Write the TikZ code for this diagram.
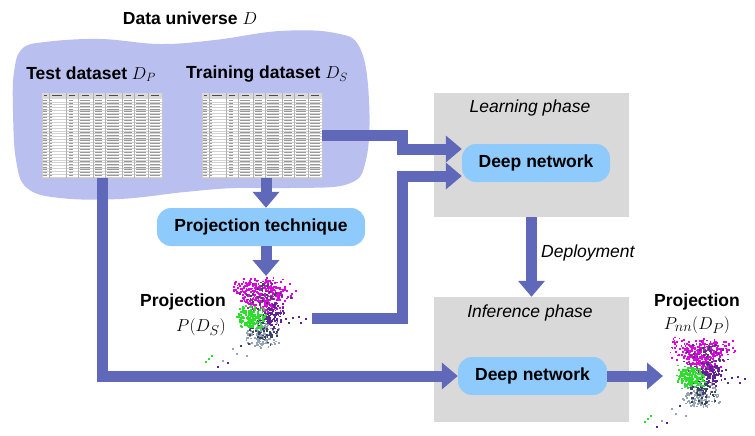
\documentclass[tikz,border=0pt]{standalone}
\usepackage{fontspec}
\setmainfont{Liberation Sans}
\usetikzlibrary{arrows.meta}
\definecolor{arrowc}{RGB}{96,104,186}
\definecolor{blobc}{RGB}{185,192,240}
\definecolor{boxc}{RGB}{217,217,217}
\definecolor{nodec}{RGB}{143,202,253}
\definecolor{magc}{RGB}{225,0,225}
\definecolor{grnc}{RGB}{40,225,40}
\definecolor{purc}{RGB}{95,35,150}
\definecolor{navc}{RGB}{60,70,100}
\definecolor{gryc}{RGB}{150,165,180}
\tikzset{
 band/.style={draw=arrowc, line width=11pt, line join=miter, -{Triangle[length=16pt,width=26pt]}},
 dnbox/.style={fill=nodec, rounded corners=14pt, font=\fontsize{17.5}{20}\selectfont\bfseries, inner sep=0pt},
 phase/.style={fill=boxc, inner sep=0pt},
 phaselbl/.style={font=\fontsize{17.5}{20}\selectfont\itshape, inner sep=0pt},
 lbl/.style={font=\fontsize{17.5}{20}\selectfont\bfseries, inner sep=0pt},
 mlbl/.style={font=\fontsize{19}{22}\selectfont, inner sep=0pt},
 tab/.style={fill=white, draw=gray!45, line width=0.5pt, minimum width=120pt, minimum height=85pt, inner sep=0pt},
}
\newcommand\minitab[1]{%
 \begin{scope}[shift={(#1.north west)}]
  \fill[gray!30] (0,0) rectangle (120,6);
  \foreach \r in {1,...,27}{\draw[gray!35,line width=0.3pt] (0,{6+\r*2.9}) -- (120,{6+\r*2.9});}
  \foreach \c in {7,24,36,51,63,80,92,106}{\draw[gray!60,line width=0.4pt] (\c,0) -- (\c,85);}
  \foreach \a/\b in {2/5,10/20,27/33,40/47,54/60,67/76,84/89,96/102,109/117}{\draw[black!70,line width=0.9pt] (\a,3) -- (\b,3);}
  \foreach \r in {0,...,26}{\foreach \a/\b in {1/5,8/10,27/31,38/48,53/60,65/77,82/90,94/104,108/118}{\draw[gray!80,line width=0.8pt] (\a,{7.45+\r*2.9}) -- (\b,{7.45+\r*2.9});}}
 \end{scope}}
\newcommand\cloud[6]{\foreach \k in {1,...,#6}{\fill[#5] ({#1+#3*(rand+rand)/2},{#2+#4*(rand+rand)/2}) rectangle ++(1.8,1.8);}}
\newcommand\scatplot{%
  \cloud{261}{289}{34}{13}{magc}{230}
  \cloud{263}{303}{22}{11}{magc}{130}
  \cloud{266}{294}{28}{16}{navc}{45}
  \cloud{261}{334}{19}{14}{gryc}{160}
  \cloud{262}{330}{17}{16}{navc}{70}
  \cloud{271}{314}{14}{15}{purc}{100}
  \cloud{251}{316}{16}{13}{grnc}{200}
  \foreach \px/\py/\pc in {285/318/purc,292/317/purc,298/316/purc,305/318/purc,300/322/purc,288/322/navc,295/290/magc,289/283/magc,
     232/348/gryc,236/353/gryc,240/345/navc,208/358/grnc,211/355/grnc,205/361/grnc,217/366/purc,222/360/gryc,227/362/purc,246/355/gryc}
    {\fill[\pc] (\px,\py) rectangle ++(1.8,1.8);}
}
\begin{document}
\begin{tikzpicture}[x=1pt,y=-1pt]
\useasboundingbox (0,0) rectangle (755,436);
% data universe blob
\fill[blobc] plot[smooth cycle, tension=0.65] coordinates {(14,72) (22,49) (45,42) (100,39) (160,44) (215,40) (280,31) (335,33) (360,48) (369,100) (366,160) (348,184) (290,188) (235,188) (185,192) (120,199) (60,198) (27,188) (16,160) (13,110)};
\node[lbl] (title) at (190,18) {Data universe $D$};
\node[lbl] (testlbl) at (91,74) {Test dataset $D_P$};
\node[lbl] (trainlbl) at (267,74) {Training dataset $D_S$};
\node[tab] (testtab) at (102,135.5) {};
\node[tab] (traintab) at (262,135.5) {};
\minitab{testtab}
\minitab{traintab}
% phase boxes
\node[phase, minimum width=195pt, minimum height=124pt] (learnbox) at (531.5,155) {};
\node[phaselbl] (learnlbl) at (530,108) {Learning phase};
\node[phase, minimum width=195pt, minimum height=125pt] (infbox) at (531.5,359.5) {};
\node[phaselbl] (inflbl) at (530,313) {Inference phase};
% process nodes
\node[dnbox, minimum width=148pt, minimum height=38pt] (dn1) at (536,163) {Deep network};
\node[dnbox, minimum width=149pt, minimum height=38pt] (dn2) at (532.5,376) {Deep network};
\node[dnbox, minimum width=208pt, minimum height=38pt] (projtech) at (261,227) {Projection technique};
% scatter plots
\pgfmathsetseed{11}
\scatplot
\begin{scope}[shift={(439pt,-60pt)}]
\pgfmathsetseed{29}
\scatplot
\end{scope}
\coordinate (s1) at (312,318);
\coordinate (s1top) at (266,276);
\coordinate (s2in) at (663,376);
% labels
\node[lbl, anchor=east] (p1a) at (226,302) {Projection};
\node[mlbl, anchor=east] (p1b) at (226,327) {$P(D_S)$};
\node[lbl] (p2a) at (697,302) {Projection};
\node[mlbl] (p2b) at (697,325) {$P_{nn}(D_P)$};
\node[phaselbl, anchor=west] (deploy) at (541,253) {Deployment};
% connectors
\draw[band] (traintab.east) -- (402,135.5) |- ([yshift=14pt]dn1.west);
\draw[band] (s1) -- (402,318) |- ([yshift=-13pt]dn1.west);
\draw[band] (testtab.south) |- (dn2.west);
\draw[band] ([xshift=4pt]traintab.south) -- ([xshift=5pt]projtech.north);
\draw[band] ([xshift=5pt]projtech.south) -- (s1top);
\draw[band] (learnbox.south) -- (infbox.north);
\draw[band] (dn2.east) -- (s2in);
\end{tikzpicture}
\end{document}
